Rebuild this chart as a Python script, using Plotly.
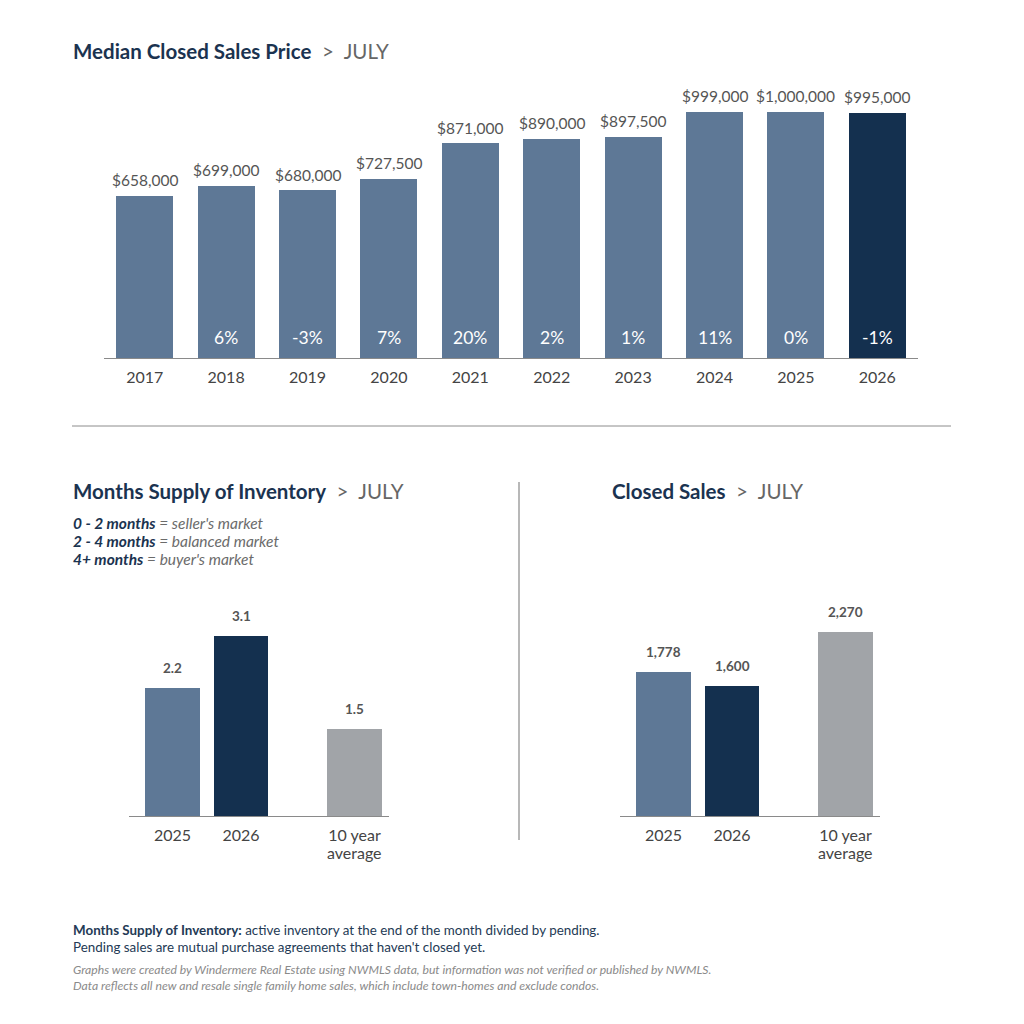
import plotly.graph_objects as go

# --- Data ---
years = ['2017', '2018', '2019', '2020', '2021', '2022', '2023', '2024', '2025', '2026']
median_price = [658000, 699000, 680000, 727500, 871000, 890000, 897500, 999000, 1000000, 995000]
pct_change = ['', '6%', '-3%', '7%', '20%', '2%', '1%', '11%', '0%', '-1%']

small_cats = ['2025', '2026', '10 year<br>average']
months_supply = [2.2, 3.1, 1.5]
closed_sales = [1778, 1600, 2270]

# --- Styling ---
BLUE = '#5E7896'
NAVY = '#14304F'
GRAY = '#A1A4A8'
TITLE_NAVY = '#1B3350'
LABEL = '#555555'
FONT = 'Lato'

top_colors = [BLUE] * 9 + [NAVY]
small_colors = [BLUE, NAVY, GRAY]
small_pos = [0, 1, 2.657]   # gap before the 10 year average bar

OFF = 8  # page body margin


def py(px):
    # pixel row -> paper y
    return 1 - (px - OFF) / 1024


def px_x(px):
    return (px - OFF) / 1024


fig = go.Figure()

# --- Median closed sales price ---
fig.add_trace(go.Bar(
    x=years, y=median_price, marker=dict(color=top_colors, line=dict(width=0)),
    width=0.70, xaxis='x', yaxis='y', hoverinfo='skip'
))

# --- Months supply ---
fig.add_trace(go.Bar(
    x=small_pos, y=months_supply, marker=dict(color=small_colors, line=dict(width=0)),
    width=0.796, xaxis='x2', yaxis='y2', hoverinfo='skip'
))

# --- Closed sales ---
fig.add_trace(go.Bar(
    x=small_pos, y=closed_sales, marker=dict(color=small_colors, line=dict(width=0)),
    width=0.796, xaxis='x3', yaxis='y3', hoverinfo='skip'
))

annotations = []

# value labels top chart (category index for x)
for i, (v, p) in enumerate(zip(median_price, pct_change)):
    annotations.append(dict(
        x=i, y=v, xref='x', yref='y', text=f'${v:,.0f}', showarrow=False,
        yanchor='bottom', yshift=5, font=dict(family=FONT, size=15.5, color=LABEL)
    ))
    if p:
        annotations.append(dict(
            x=i, y=0, xref='x', yref='y', text=p, showarrow=False,
            yanchor='middle', yshift=21, font=dict(family=FONT, size=17.5, color='white')
        ))

# value labels small charts
for xp, v in zip(small_pos, months_supply):
    annotations.append(dict(
        x=xp, y=v, xref='x2', yref='y2', text=f'<b>{v:.1f}</b>', showarrow=False,
        yanchor='bottom', yshift=10, font=dict(family=FONT, size=13.5, color=LABEL)
    ))
for xp, v in zip(small_pos, closed_sales):
    annotations.append(dict(
        x=xp, y=v, xref='x3', yref='y3', text=f'<b>{v:,.0f}</b>', showarrow=False,
        yanchor='bottom', yshift=10, font=dict(family=FONT, size=13.5, color=LABEL)
    ))

# second line of the "10 year average" tick label, set tighter than <br>
tick_first = [c.split('<br>')[0] for c in small_cats]
for xr, yr in (('x2', 'y2'), ('x3', 'y3')):
    for xp, c in zip(small_pos, small_cats):
        if '<br>' in c:
            annotations.append(dict(
                x=xp, y=0, xref=xr, yref=yr, text=c.split('<br>')[1], showarrow=False,
                yanchor='middle', yshift=-36, font=dict(family=FONT, size=16, color='#444444')
            ))


# titles
def title(text, x, y):
    annotations.append(dict(
        x=px_x(x), y=py(y), xref='paper', yref='paper', xanchor='left', yanchor='middle',
        showarrow=False,
        text=f"<b>{text}</b>  <span style='color:#666666'>&gt;  JULY</span>",
        font=dict(family=FONT, size=20.5, color=TITLE_NAVY)
    ))


title('Median Closed Sales Price', 71, 51)
title('Months Supply of Inventory', 71, 491)
title('Closed Sales', 610, 491)

# market key
key_ranges = ['0 - 2 months', '2 - 4 months', '4+ months']
key_labels = ["seller's market", 'balanced market', "buyer's market"]
for k, (r, lab) in enumerate(zip(key_ranges, key_labels)):
    annotations.append(dict(
        x=px_x(71), y=py(523 + 18 * k), xref='paper', yref='paper', xanchor='left', yanchor='middle',
        align='left', showarrow=False,
        text=f"<b><i>{r}</i></b><span style='color:#6b6b6b'><i> = {lab}</i></span>",
        font=dict(family=FONT, size=15.5, color=TITLE_NAVY)
    ))

# footer
annotations.append(dict(
    x=px_x(71), y=py(938), xref='paper', yref='paper', xanchor='left', yanchor='middle',
    align='left', showarrow=False,
    text=("<b>Months Supply of Inventory:</b> active inventory at the end of the month divided by pending.<br>"
          "Pending sales are mutual purchase agreements that haven't closed yet."),
    font=dict(family=FONT, size=13.4, color='#243a55')
))
annotations.append(dict(
    x=px_x(71), y=py(977), xref='paper', yref='paper', xanchor='left', yanchor='middle',
    align='left', showarrow=False,
    text=("<i>Graphs were created by Windermere Real Estate using NWMLS data, but information was not verified or published by NWMLS.</i><br>"
          "<i>Data reflects all new and resale single family home sales, which include town-homes and exclude condos.</i>"),
    font=dict(family=FONT, size=12.2, color='#8a8a8a')
))

# divider lines
shapes = [
    dict(type='line', xref='paper', yref='paper', x0=px_x(72), x1=px_x(951), y0=py(426), y1=py(426),
         line=dict(color='#8c8c8c', width=1)),
    dict(type='line', xref='paper', yref='paper', x0=px_x(519), x1=px_x(519), y0=py(482), y1=py(840),
         line=dict(color='#a0a0a0', width=1.5)),
]

axis_common = dict(showline=True, linecolor='#8a8a8a', linewidth=1.2, showgrid=False, zeroline=False,
                   ticks='', tickfont=dict(family=FONT, size=16, color='#444444'), fixedrange=True,
                   ticklabelstandoff=5)
yaxis_common = dict(visible=False, showgrid=False, zeroline=False, fixedrange=True)

fig.update_layout(
    width=1024, height=1024,
    margin=dict(l=0, r=0, t=0, b=0),
    paper_bgcolor='white', plot_bgcolor='white',
    showlegend=False,
    bargap=0,
    font=dict(family=FONT),
    xaxis=dict(domain=[px_x(104), px_x(918)], type='category', range=[-0.5, 9.5], anchor='y', **axis_common),
    yaxis=dict(domain=[py(358), py(87.4)], range=[0, 1100000], anchor='x', **yaxis_common),
    xaxis2=dict(domain=[px_x(129), px_x(389)], range=[-0.635, 3.16], anchor='y2',
                tickvals=small_pos, ticktext=tick_first, **axis_common),
    yaxis2=dict(domain=[py(816), py(606)], range=[0, 3.614], anchor='x2', **yaxis_common),
    xaxis3=dict(domain=[px_x(620), px_x(880)], range=[-0.635, 3.16], anchor='y3',
                tickvals=small_pos, ticktext=tick_first, **axis_common),
    yaxis3=dict(domain=[py(816), py(606)], range=[0, 2589], anchor='x3', **yaxis_common),
    annotations=annotations,
    shapes=shapes,
)

fig.write_html('out.html')
